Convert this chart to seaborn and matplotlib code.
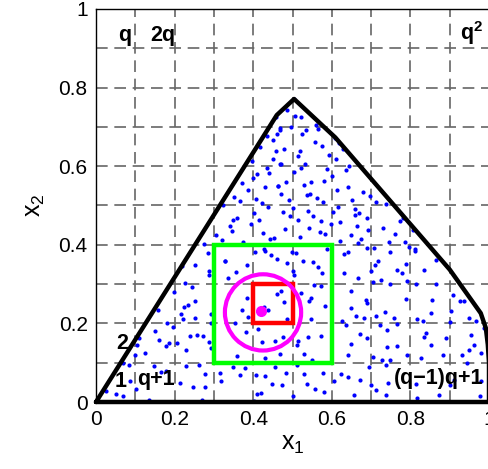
"""
Dots in a region, with the q-numbered grid cells and nested search boxes
"""

import matplotlib
matplotlib.use('Agg')
import matplotlib.pyplot as plt
import matplotlib.patches as mpatches
import seaborn as sns
import pandas as pd

# blue sample points
dot_x = [
    0.000, 0.285, 0.327, 0.251, 0.219, 0.287, 0.288, 0.226, 0.245, 0.198,
    0.253, 0.234, 0.224, 0.157, 0.216, 0.222, 0.253, 0.292, 0.181, 0.197,
    0.293, 0.151, 0.240, 0.258, 0.272, 0.109, 0.161, 0.185, 0.179, 0.206,
    0.105, 0.287, 0.292, 0.125, 0.099, 0.229, 0.069, 0.085, 0.148, 0.166,
    0.177, 0.228, 0.263, 0.278, 0.315, 0.086, 0.025, 0.052, 0.068, 0.103,
    0.134, 0.203, 0.246, 0.278, 0.270, 0.319, 0.215,
    # middle bottom
    0.329, 0.355, 0.384, 0.404, 0.429, 0.446, 0.460, 0.487, 0.498, 0.508,
    0.527, 0.551, 0.565, 0.576, 0.631, 0.641, 0.630, 0.336, 0.500, 0.504,
    0.555, 0.572, 0.522, 0.548, 0.542, 0.582, 0.461, 0.470, 0.478, 0.428,
    0.438, 0.384, 0.371, 0.388, 0.353, 0.485, 0.548, 0.627, 0.649, 0.650,
    0.637, 0.381, 0.413, 0.477, 0.455, 0.423, 0.514, 0.540, 0.573, 0.511,
    0.650, 0.642, 0.360, 0.431, 0.468, 0.529, 0.549, 0.348, 0.378, 0.455,
    0.483, 0.512, 0.366, 0.406, 0.429, 0.528, 0.577, 0.624, 0.605, 0.640,
    0.449, 0.474, 0.537, 0.557, 0.580, 0.410, 0.419, 0.500, 0.656, 0.402,
    0.606,
    # right bottom
    0.811, 0.707, 0.748, 0.718, 0.709, 0.701, 0.767, 0.779, 0.788, 0.667,
    0.835, 0.864, 0.706, 0.726, 0.748, 0.792, 0.813, 0.865, 0.908, 0.926,
    0.936, 0.686, 0.690, 0.788, 0.856, 0.904, 0.661, 0.682, 0.712, 0.735,
    0.758, 0.816, 0.833, 0.852, 0.900, 0.949, 0.966, 0.722, 0.767, 0.672,
    0.689, 0.740, 0.835, 0.839, 0.890, 0.987, 0.955, 0.741, 0.767, 0.852,
    0.792, 0.884, 0.932, 0.949, 0.962, 0.979, 0.705, 0.729, 0.748, 0.826,
    0.945, 0.695, 0.737, 0.672, 0.699, 0.712, 0.737, 0.744, 0.813, 0.816,
    0.873, 0.902, 0.911, 0.979, 0.977, 0.808,
    # upper left
    0.458, 0.467, 0.460, 0.434, 0.450, 0.417, 0.458, 0.451, 0.396, 0.468,
    0.434, 0.441, 0.409, 0.399, 0.371, 0.431, 0.463, 0.388, 0.352, 0.406,
    0.367, 0.422, 0.437, 0.324, 0.402, 0.360, 0.349, 0.414, 0.341, 0.394,
    0.346, 0.424, 0.305, 0.321, 0.375, 0.443, 0.453, 0.276, 0.428,
    # upper right
    0.504, 0.485, 0.507, 0.521, 0.495, 0.468, 0.535, 0.524, 0.560, 0.565,
    0.609, 0.618, 0.628, 0.557, 0.575, 0.478, 0.519, 0.514, 0.592, 0.611,
    0.470, 0.531, 0.522, 0.645, 0.637, 0.589, 0.504, 0.601, 0.484, 0.580,
    0.548, 0.529, 0.463, 0.642, 0.613, 0.680, 0.697, 0.472, 0.545, 0.537,
    0.563, 0.490, 0.578, 0.651, 0.713, 0.739, 0.502, 0.616, 0.660, 0.475,
    0.540, 0.602, 0.669, 0.660, 0.494, 0.551, 0.690, 0.782, 0.513, 0.572,
    0.622, 0.597, 0.774, 0.663, 0.482, 0.543, 0.570, 0.583, 0.692, 0.730,
    0.761, 0.807, 0.518, 0.648, 0.674, 0.667, 0.621, 0.746, 0.785, 0.797,
    0.812, 0.689, 0.588,
]
dot_y = [
    0.000, 0.380, 0.358, 0.348, 0.345, 0.334, 0.324, 0.302, 0.292, 0.279,
    0.258, 0.246, 0.241, 0.235, 0.224, 0.212, 0.215, 0.224, 0.202, 0.190,
    0.201, 0.181, 0.169, 0.171, 0.168, 0.163, 0.158, 0.151, 0.142, 0.150,
    0.146, 0.152, 0.137, 0.125, 0.119, 0.132, 0.098, 0.094, 0.092, 0.077,
    0.078, 0.091, 0.094, 0.072, 0.074, 0.053, 0.029, 0.021, 0.015, 0.033,
    0.004, 0.001, 0.037, 0.037, 0.006, 0.053, 0.048,
    # middle bottom
    0.360, 0.332, 0.349, 0.382, 0.385, 0.375, 0.365, 0.353, 0.382, 0.378,
    0.360, 0.355, 0.343, 0.328, 0.377, 0.382, 0.327, 0.316, 0.333, 0.322,
    0.297, 0.294, 0.277, 0.264, 0.256, 0.245, 0.276, 0.282, 0.254, 0.243,
    0.233, 0.265, 0.234, 0.217, 0.201, 0.210, 0.212, 0.207, 0.239, 0.282,
    0.197, 0.178, 0.186, 0.165, 0.154, 0.152, 0.156, 0.165, 0.167, 0.144,
    0.148, 0.119, 0.117, 0.112, 0.122, 0.122, 0.108, 0.088, 0.087, 0.088,
    0.074, 0.095, 0.069, 0.068, 0.067, 0.070, 0.075, 0.071, 0.054, 0.063,
    0.046, 0.042, 0.046, 0.032, 0.025, 0.020, 0.024, 0.015, 0.019, 0.002,
    0.000,
    # right bottom
    0.385, 0.392, 0.382, 0.360, 0.349, 0.334, 0.337, 0.328, 0.351, 0.316,
    0.337, 0.362, 0.305, 0.310, 0.300, 0.307, 0.300, 0.299, 0.273, 0.256,
    0.258, 0.260, 0.252, 0.263, 0.260, 0.232, 0.218, 0.214, 0.218, 0.228,
    0.215, 0.211, 0.205, 0.226, 0.204, 0.214, 0.207, 0.195, 0.198, 0.173,
    0.163, 0.182, 0.165, 0.176, 0.163, 0.188, 0.170, 0.140, 0.142, 0.146,
    0.120, 0.119, 0.120, 0.133, 0.146, 0.125, 0.114, 0.108, 0.108, 0.112,
    0.099, 0.089, 0.095, 0.057, 0.044, 0.030, 0.019, 0.049, 0.046, 0.010,
    0.019, 0.044, 0.057, 0.053, 0.014, 0.000,
    # upper left
    0.726, 0.696, 0.681, 0.678, 0.667, 0.648, 0.638, 0.619, 0.612, 0.605,
    0.595, 0.582, 0.579, 0.571, 0.556, 0.547, 0.550, 0.540, 0.522, 0.517,
    0.511, 0.506, 0.495, 0.501, 0.481, 0.467, 0.464, 0.462, 0.447, 0.452,
    0.435, 0.430, 0.424, 0.413, 0.408, 0.415, 0.418, 0.402, 0.389,
    # upper right
    0.771, 0.744, 0.727, 0.724, 0.701, 0.693, 0.691, 0.683, 0.705, 0.695,
    0.673, 0.658, 0.645, 0.662, 0.651, 0.645, 0.639, 0.625, 0.628, 0.618,
    0.605, 0.606, 0.595, 0.601, 0.590, 0.593, 0.584, 0.574, 0.561, 0.562,
    0.559, 0.552, 0.550, 0.547, 0.540, 0.535, 0.525, 0.528, 0.530, 0.526,
    0.518, 0.513, 0.508, 0.513, 0.509, 0.503, 0.493, 0.496, 0.491, 0.484,
    0.486, 0.483, 0.480, 0.476, 0.473, 0.474, 0.469, 0.469, 0.464, 0.461,
    0.457, 0.454, 0.461, 0.448, 0.440, 0.442, 0.432, 0.427, 0.437, 0.444,
    0.428, 0.437, 0.420, 0.425, 0.415, 0.405, 0.410, 0.407, 0.406, 0.394,
    0.389, 0.393, 0.389,
]

# region boundary
edge_x = [0.0, 0.46, 0.504, 0.609, 0.90, 0.979, 0.992, 0.997, 1.0, 1.0, 0.0]
edge_y = [0.0, 0.73, 0.771, 0.673, 0.337, 0.226, 0.188, 0.146, 0.10, 0.0, 0.0]

# boxes: (x0, x1, y0, y1)
outer_box = (0.30, 0.60, 0.10, 0.40)
inner_box = (0.40, 0.50, 0.20, 0.30)
circle_center = (0.425, 0.228)
circle_radius = 0.097
query_point = (0.420, 0.231)

# cell numbering labels
cell_labels = ['q', '2q', r'$\mathbf{q^2}$', '2', '1', 'q+1', '(q\u22121)q+1']
cell_label_x = [0.074, 0.170, 0.955, 0.066, 0.062, 0.152, 0.873]
cell_label_y = [0.933, 0.933, 0.940, 0.150, 0.052, 0.056, 0.060]

ticks = [0, 0.2, 0.4, 0.6, 0.8, 1]
tick_labels = ['0', '0.2', '0.4', '0.6', '0.8', '1']

sns.set_style('white')
plt.rcParams['font.family'] = ['Liberation Sans', 'DejaVu Sans']
plt.rcParams['mathtext.fontset'] = 'custom'
plt.rcParams['mathtext.rm'] = 'Liberation Sans'
plt.rcParams['mathtext.it'] = 'Liberation Sans:italic'
plt.rcParams['mathtext.bf'] = 'Liberation Sans:bold'

fig = plt.figure(figsize=(4.88, 4.69), dpi=100)
ax = fig.add_axes([96 / 488, 67 / 469, 393 / 488, 393 / 469])

# dashed grid every 0.1
for g in [i / 10 for i in range(1, 10)]:
    ax.axvline(g, color='#666666', lw=1.2, ls=(0, (7, 4)), zorder=0)
    ax.axhline(g, color='#666666', lw=1.2, ls=(0, (7, 4)), zorder=0)

dots = pd.DataFrame({'x1': dot_x, 'x2': dot_y})
sns.scatterplot(data=dots, x='x1', y='x2', color='blue', s=9,
                linewidth=0, ax=ax, zorder=2)

edge = pd.DataFrame({'x': edge_x, 'y': edge_y, 'order': range(len(edge_x))})
sns.lineplot(data=edge, x='x', y='y', sort=False, estimator=None,
             color='black', lw=3.2, ax=ax, zorder=3, clip_on=False)

x0, x1, y0, y1 = outer_box
ax.add_patch(mpatches.Rectangle((x0, y0), x1 - x0, y1 - y0, fill=False,
                                edgecolor='#00ff00', lw=3.2, zorder=4))
x0, x1, y0, y1 = inner_box
ax.add_patch(mpatches.Rectangle((x0, y0), x1 - x0, y1 - y0, fill=False,
                                edgecolor='red', lw=3.2, zorder=5))
ax.add_patch(mpatches.Circle(circle_center, circle_radius, fill=False,
                             edgecolor='magenta', lw=3, zorder=5))
ax.plot(*query_point, 'o', color='magenta', ms=7, zorder=6)

for txt, tx, ty in zip(cell_labels, cell_label_x, cell_label_y):
    ax.text(tx, ty, txt, ha='center', va='center', fontsize=15.5,
            fontweight='bold', color='black', zorder=7)

ax.set_xlim(0, 1)
ax.set_ylim(0, 1)
ax.set_xticks(ticks)
ax.set_xticklabels(tick_labels)
ax.set_yticks(ticks)
ax.set_yticklabels(tick_labels)
ax.tick_params(labelsize=15, direction='in', length=4, pad=6,
               colors='black', labelcolor='black')
ax.set_xlabel(r'$\mathrm{x_1}$', fontsize=18, labelpad=2, color='black')
ax.set_ylabel(r'$\mathrm{x_2}$', fontsize=18, labelpad=8, color='black')
for s in ax.spines.values():
    s.set_color('black')
    s.set_linewidth(1)

fig.savefig('out.png', dpi=100)
